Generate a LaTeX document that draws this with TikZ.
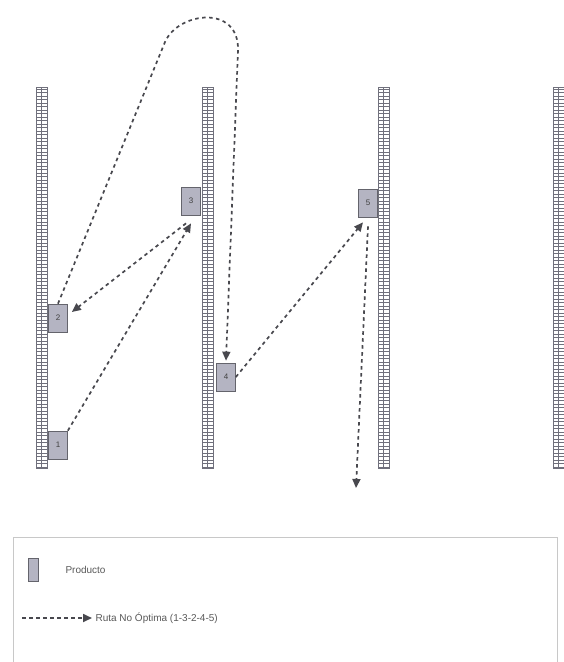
\documentclass[tikz,border=0pt]{standalone}
\usepackage{fontspec}
\setmainfont{Liberation Sans}
\usetikzlibrary{arrows.meta}
\definecolor{Rack}{RGB}{112,112,124}
\definecolor{BoxFill}{RGB}{180,180,194}
\definecolor{BoxLine}{RGB}{100,100,108}
\definecolor{Route}{RGB}{72,72,78}
\definecolor{Frame}{RGB}{200,200,200}
\tikzset{
  rackline/.style={draw=Rack,line width=0.6pt},
  prodbox/.style={draw=BoxLine,fill=BoxFill,line width=0.7pt,minimum width=19pt,minimum height=28pt,inner sep=0pt,font=\fontsize{8}{9}\selectfont,text=black!75},
  route/.style={-{Triangle[length=9pt,width=8pt]},line width=1.7pt,draw=Route,dash pattern=on 3.5pt off 3.5pt},
  legendtext/.style={font=\fontsize{10}{12}\selectfont,text=black!65,anchor=west}
}
\newcommand{\rackcol}[1]{%
  \draw[rackline] (#1,87) rectangle (#1+11,468);
  \draw[rackline,line width=0.3pt] (#1+5.5,87) -- (#1+5.5,468);
  \foreach \k in {0,...,108} \draw[rackline,line width=0.5pt] (#1,89+\k*3.5) -- (#1+11,89+\k*3.5);
}

\begin{document}
\begin{tikzpicture}[x=1pt,y=-1pt]
\useasboundingbox[fill=white] (0,0) rectangle (564,662);
% racks
\rackcol{36}
\rackcol{202}
\rackcol{378}
\rackcol{553}
% products
\node[prodbox] (p1) at (58,445) {1};
\node[prodbox] (p2) at (58,318) {2};
\node[prodbox] (p3) at (191,201) {3};
\node[prodbox] (p4) at (226,377) {4};
\node[prodbox] (p5) at (368,203) {5};
\coordinate (exit) at (356,488);
% route 1-3-2-4-5
\draw[route] (p1.north east) -- ([yshift=-8pt]p3.south);
\draw[route] ([xshift=-5pt,yshift=-8pt]p3.south) -- ([yshift=6pt,xshift=4pt]p2.east);
\draw[route] (p2.north) -- (165,42) .. controls (178,12) and (239,4) .. (238,50) -- ([yshift=2pt]p4.north);
\draw[route] (p4.east) -- ([yshift=-5pt,xshift=-5pt]p5.south);
\draw[route] ([yshift=-9pt]p5.south) -- (exit);
% legend
\draw[draw=Frame] (13,668) -- (13,537) -- (557,537) -- (557,668);
\node[prodbox,minimum width=10pt,minimum height=23pt] (legbox) at (33,570) {};
\node[legendtext] (legprod) at (62,570) {Producto};
\coordinate (legstart) at (22,618);
\node[legendtext] (legroute) at (92,618) {Ruta No Óptima (1-3-2-4-5)};
\draw[route] (legstart) -- (legroute.west);
\end{tikzpicture}
\end{document}
